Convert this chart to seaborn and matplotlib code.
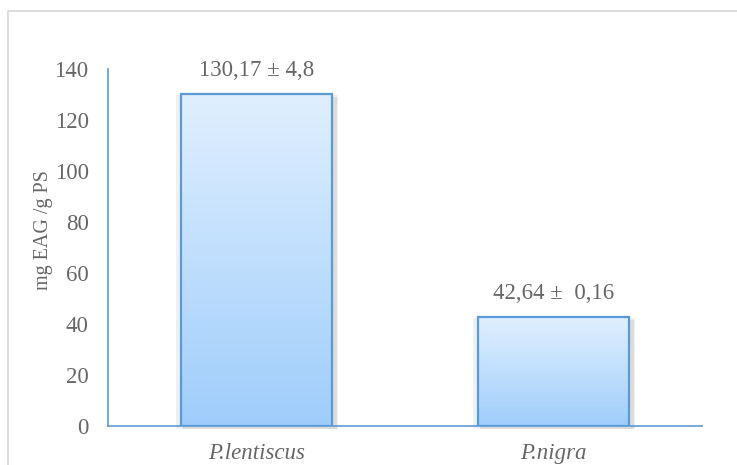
import numpy as np
import pandas as pd
import matplotlib
matplotlib.use("Agg")
import matplotlib.pyplot as plt
import seaborn as sns
from matplotlib.colors import LinearSegmentedColormap
from matplotlib.patches import Rectangle

# ---- data ----
categories = ["P.lentiscus", "P.nigra"]
values = [130.17, 42.64]
value_labels = ["130,17 ± 4,8", "42,64 ±  0,16"]
yticks = [0, 20, 40, 60, 80, 100, 120, 140]
ylabel = "mg EAG /g PS"

df = pd.DataFrame({"espece": categories, "valeur": values})

sns.set_theme(style="white")
plt.rcParams["font.family"] = ["Liberation Serif", "DejaVu Serif"]

W, H = 737, 465
fig = plt.figure(figsize=(W / 100, H / 100), dpi=100)
ax = fig.add_axes([108 / W, (H - 426) / H, (702 - 108) / W, (426 - 69) / H])

sns.barplot(data=df, x="espece", y="valeur", ax=ax, width=0.507,
            color="#bcdcfc", edgecolor="#5b9bd5", linewidth=1.6, zorder=3)

ax.set_xlim(-0.5, 1.5)
ax.set_ylim(0, 140)
ax.set_yticks(yticks)

txt = "#666666"
edge = "#5b9bd5"
for s in ["top", "right"]:
    ax.spines[s].set_visible(False)
for s in ["left", "bottom"]:
    ax.spines[s].set_color(edge)
    ax.spines[s].set_linewidth(1.2)
ax.tick_params(axis="both", length=0, colors=txt, labelsize=16.5)
ax.tick_params(axis="y", pad=14)
ax.tick_params(axis="x", pad=12)
for lab in ax.get_xticklabels():
    lab.set_fontstyle("italic")
    lab.set_fontfamily(["Liberation Serif", "DejaVu Serif"])
ax.set_xlabel("")
ax.set_ylabel(ylabel, fontsize=14.5, color=txt)
ax.yaxis.set_label_coords(-0.093, 0.55)

# gradient fill + soft shadow for each bar
cmap = LinearSegmentedColormap.from_list("grad", ["#9fcdfb", "#e0efff"])
grad = np.linspace(0, 1, 256).reshape(-1, 1)
px_x = 1 / 296.0
px_y = 140 / 357.0
for p in list(ax.patches):
    x, w, h = p.get_x(), p.get_width(), p.get_height()
    sh1 = Rectangle((x - 5 * px_x, -3 * px_y), w + 11 * px_x, h + 2 * px_y,
                    facecolor="#f0f0f0", edgecolor="none", zorder=1, clip_on=False)
    sh2 = Rectangle((x + 2 * px_x, -3 * px_y), w + 3 * px_x, h,
                    facecolor="#dcdcdc", edgecolor="none", zorder=1.5, clip_on=False)
    ax.add_patch(sh1)
    ax.add_patch(sh2)
    im = ax.imshow(grad, extent=[x, x + w, 0, h], origin="lower", cmap=cmap,
                   aspect="auto", zorder=2, interpolation="bicubic")
    im.set_clip_path(p)
    p.set_facecolor("none")

ax.set_xlim(-0.5, 1.5)
ax.set_ylim(0, 140)
ax.set_aspect("auto")

# value annotations
for i, (v, lab) in enumerate(zip(values, value_labels)):
    ax.annotate(lab, xy=(i, v), xytext=(0, 17), textcoords="offset points",
                ha="center", va="center", fontsize=16.5, color=txt, zorder=5)

# outer chart frame
fig.patches.append(Rectangle((8 / W, -0.1), 1.2, 1.1 - 11 / H,
                             transform=fig.transFigure, facecolor="none",
                             edgecolor="#d9d9d9", linewidth=1.3))

fig.savefig("out.png", dpi=100)
